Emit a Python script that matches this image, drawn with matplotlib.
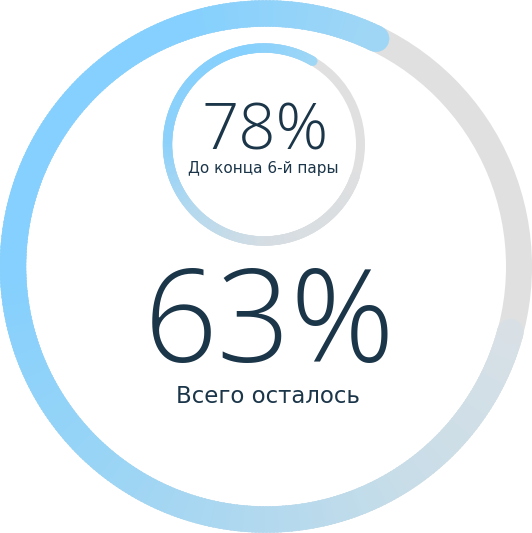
"""Два кольца прогресса: всего осталось / до конца 6-й пары."""

import matplotlib
matplotlib.use("Agg")
import matplotlib.pyplot as plt
import numpy as np
from matplotlib.colors import LinearSegmentedColormap
from matplotlib.patches import Wedge, Circle

# Данные
labels = ["Всего осталось", "До конца 6-й пары"]
values = [63, 78]               # подписи в центре колец, %
arc_fraction = [0.78, 0.78]     # доля дуги, видимая на кольце

W, H = 532, 533
TEXT = "#1b3549"
TRACK = "#e0e0e0"

# геометрия колец (в пикселях, y вверх)
rings = [
    dict(cx=266, cy=266.5, r=266, w=26, start=-15,
         stops=[(0, "#d8e0e6"), (0.15, "#c8dde8"), (0.28, "#b0d8ef"),
                (0.42, "#98d4f6"), (0.58, "#85d0fe"), (0.85, "#85d0fe"),
                (1, "#a0d6f5")]),
    dict(cx=264, cy=H - 144.5, r=101, w=9, start=-19.5,
         stops=[(0, "#dedfe0"), (0.25, "#d5dde3"), (0.42, "#b5d9ef"),
                (0.58, "#8cd1fb"), (0.85, "#85d0fe"), (1, "#9ed6f6")]),
]

fig = plt.figure(figsize=(W / 100, H / 100), dpi=100)
ax = fig.add_axes([0, 0, 1, 1])
ax.set_xlim(0, W)
ax.set_ylim(0, H)
ax.set_aspect("equal")
ax.axis("off")


def draw_ring(ring, frac):
    cx, cy, r, w = ring["cx"], ring["cy"], ring["r"], ring["w"]
    cmap = LinearSegmentedColormap.from_list("g", ring["stops"])
    ax.add_patch(Wedge((cx, cy), r, 0, 360, width=w, facecolor=TRACK, lw=0))

    sweep = frac * 360
    n = 360
    ts = np.linspace(0, 1, n + 1)
    for i in range(n):
        a0 = ring["start"] - ts[i] * sweep
        a1 = ring["start"] - ts[i + 1] * sweep
        c = cmap((ts[i] + ts[i + 1]) / 2)
        ax.add_patch(Wedge((cx, cy), r, a1 - 0.2, a0 + 0.2, width=w,
                           facecolor=c, edgecolor=c, lw=0.3))
    # закруглённые концы (float, иначе cmap берёт индекс)
    rm = r - w / 2
    for t in (0.0, 1.0):
        a = np.deg2rad(ring["start"] - t * sweep)
        c = cmap(t)
        ax.add_patch(Circle((cx + rm * np.cos(a), cy + rm * np.sin(a)), w / 2,
                            facecolor=c, edgecolor=c, lw=0.3))


for ring, frac in zip(rings, arc_fraction):
    draw_ring(ring, frac)

num_font = ["Open Sans", "DejaVu Sans"]
lab_font = ["DejaVu Sans"]

# большое кольцо
ax.text(270, H - 362, f"{values[0]}%", fontsize=93, color=TEXT, family=num_font,
        fontweight="light", ha="center", va="baseline")
ax.text(268, H - 403, labels[0], fontsize=16.5, color=TEXT, family=lab_font,
        ha="center", va="baseline")

# малое кольцо
ax.text(265, H - 149, f"{values[1]}%", fontsize=47, color=TEXT, family=num_font,
        fontweight="light", ha="center", va="baseline")
ax.text(263, H - 173, labels[1], fontsize=11, color=TEXT, family=lab_font,
        ha="center", va="baseline")

fig.savefig("out.png", dpi=100)
